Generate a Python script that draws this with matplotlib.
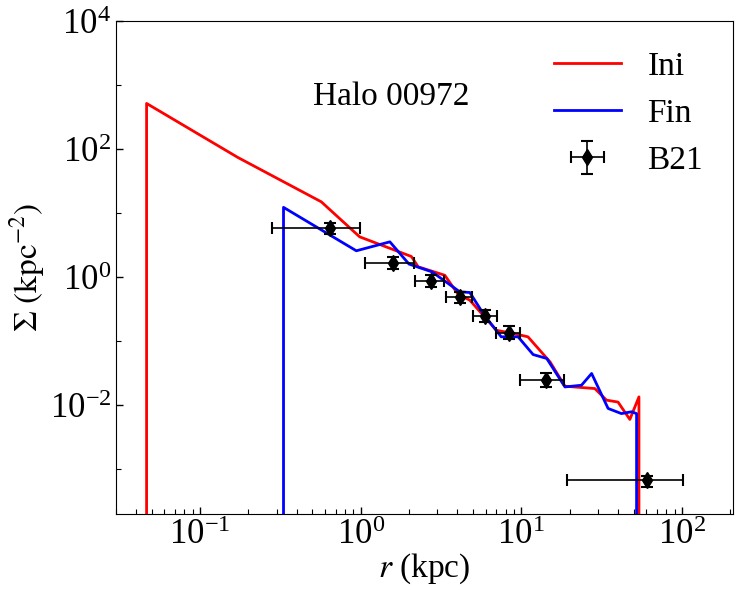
import matplotlib
matplotlib.use("Agg")
import matplotlib.pyplot as plt
import numpy as np
from matplotlib.ticker import LogLocator, FixedLocator, NullFormatter

plt.rcParams['font.family'] = ['Liberation Serif', 'DejaVu Serif']
plt.rcParams['mathtext.fontset'] = 'stix'
plt.rcParams['font.size'] = 24

# Ini profile
ini_r = [0.0465, 0.0465, 0.172, 0.569, 0.986, 2.07, 2.28, 3.34, 4.04, 4.78, 7.0,
         8.9, 11.0, 15.1, 18.7, 28.7, 33.9, 40.0, 47.4, 54.0, 54.0]
ini_s = [1e-6, 516, 74, 15.0, 4.26, 2.10, 1.45, 1.07, 0.54, 0.437, 0.148,
         0.132, 0.117, 0.0475, 0.0198, 0.0182, 0.012, 0.0112, 0.006, 0.0135, 1e-6]

# Fin profile
fin_r = [0.331, 0.331, 0.94, 1.52, 2.0, 2.78, 4.14, 4.78, 5.85, 7.5, 9.55, 11.85,
         14.4, 18.7, 23.7, 27.4, 34.7, 42.0, 48.6, 52.2, 52.2]
fin_s = [1e-6, 12.3, 2.58, 3.56, 1.6, 1.21, 0.59, 0.576, 0.26, 0.117, 0.117, 0.0618,
         0.0537, 0.0193, 0.0205, 0.0313, 0.0089, 0.0074, 0.0079, 0.0074, 1e-6]

# B21 observations
b21_r = [0.641, 1.59, 2.76, 4.14, 5.98, 8.36, 14.2, 60.3]
b21_rlo = [0.282, 1.06, 2.17, 3.42, 4.97, 6.94, 9.8, 19.2]
b21_rhi = [0.996, 2.14, 3.30, 4.9, 7.07, 9.78, 18.4, 101.0]
b21_s = [5.77, 1.67, 0.875, 0.482, 0.246, 0.135, 0.0246, 0.00067]
b21_slo = [4.65, 1.33, 0.706, 0.39, 0.196, 0.107, 0.0193, 0.00053]
b21_shi = [7.05, 2.07, 1.07, 0.59, 0.305, 0.171, 0.0313, 0.00078]

fig = plt.figure(figsize=(7.47, 5.90), dpi=100)
ax = fig.add_axes([0.1553, 0.1288, 0.826, 0.8356])

ax.plot(ini_r, ini_s, color='red', lw=2.0, label='Ini')
ax.plot(fin_r, fin_s, color='blue', lw=2.0, label='Fin')

r = np.array(b21_r); s = np.array(b21_s)
xerr = [r - np.array(b21_rlo), np.array(b21_rhi) - r]
yerr = [s - np.array(b21_slo), np.array(b21_shi) - s]
ax.errorbar(r, s, xerr=xerr, yerr=yerr, fmt='d', color='black', ms=8,
            elinewidth=1.2, capsize=4, capthick=1.5, label='B21')

ax.set_xscale('log')
ax.set_yscale('log')
ax.set_xlim(0.03, 208)
ax.set_ylim(2e-4, 1e4)

ax.yaxis.set_major_locator(FixedLocator([1e-2, 1e0, 1e2, 1e4]))
ax.yaxis.set_minor_locator(FixedLocator([1e-3, 1e-1, 1e1, 1e3]))
ax.yaxis.set_minor_formatter(NullFormatter())
ax.xaxis.set_major_locator(LogLocator(base=10, numticks=20))
ax.xaxis.set_minor_locator(LogLocator(base=10, subs=np.arange(2, 10), numticks=20))
ax.xaxis.set_minor_formatter(NullFormatter())

ax.tick_params(which='both', direction='in', top=False, right=False, labelsize=25)
ax.tick_params(which='major', length=5, width=1)
ax.tick_params(which='minor', length=3.5, width=0.8)
ax.yaxis.set_major_formatter(matplotlib.ticker.LogFormatterSciNotation())

ax.set_xlabel(r'$r$ (kpc)', fontsize=24, labelpad=0)
ax.set_ylabel(r'$\Sigma\ (\mathrm{kpc}^{-2})$', fontsize=24, labelpad=2)

ax.text(0.319, 0.846, 'Halo 00972', transform=ax.transAxes, ha='left', va='center',
        fontsize=24)

ax.legend(loc='upper right', frameon=False, fontsize=24)

fig.savefig('out.png', dpi=100)
